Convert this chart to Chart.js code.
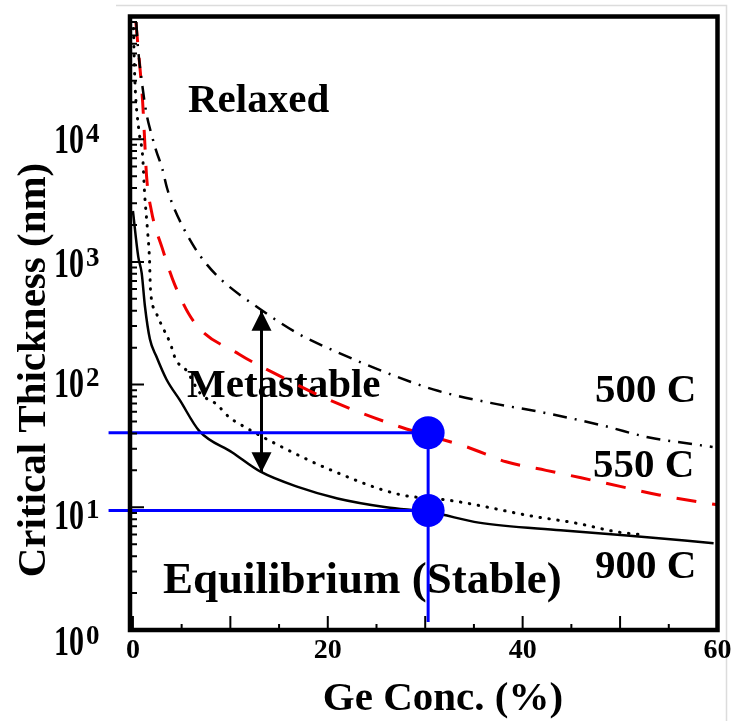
<!DOCTYPE html>
<html>
<head>
<meta charset="utf-8">
<script src="https://cdn.jsdelivr.net/npm/chart.js@4.4.1/dist/chart.umd.min.js"></script>
<style>
  html, body { margin: 0; padding: 0; background: #fff; }
</style>
</head>
<body>
<canvas id="chart" width="734" height="721"></canvas>
<script>
// values (x = Ge %, y = thickness in nm)
var x500 = [0.35, 0.5, 0.9, 1.4, 1.9, 2.4, 3.0, 3.5, 4.1, 6.1, 7.6, 9.2, 13, 17, 21.1, 25.9, 31.3, 36.7, 42.2, 48.4, 53, 57.2, 59.5];
var y500 = [90000, 58000, 30000, 16000, 11000, 8000, 5800, 4000, 2900, 1400, 950, 700, 415, 259, 182, 126, 89, 71, 59, 46, 37, 33, 31];

var x550 = [0.3, 0.5, 0.7, 1.0, 1.2, 1.4, 1.9, 3.0, 4.3, 6.3, 10.9, 15.3, 19.8, 26.8, 30.3, 34.3, 38.3, 42.4, 46, 50, 54, 58.3, 60];
var y550 = [90000, 60000, 40000, 20000, 10000, 5000, 2600, 1300, 650, 322, 177, 115, 77, 47, 38.5, 31, 23.5, 20, 17.4, 14.8, 12.6, 11, 10.5];

var xDot = [0.05, 0.2, 0.6, 1.0, 1.2, 1.5, 1.7, 1.8, 2.3, 2.9, 3.8, 4.4, 5.5, 6.9, 8.6, 9.9, 10.9, 15.3, 20.4, 27.2, 32.5, 35.4, 40.5, 45.6, 49.7, 52];
var yDot = [80000, 30000, 12000, 7200, 3600, 1800, 1050, 600, 400, 310, 220, 160, 130, 85, 69, 54, 48, 31, 20, 12.8, 11.4, 10.4, 8.6, 7.4, 6.3, 6.0];

var x900 = [0, 0.55, 0.9, 1.23, 1.74, 2.4, 3.45, 4.8, 6.8, 10.2, 13.1, 17, 21, 26, 30.6, 35.5, 43.9, 50.7, 59.6];
var y900 = [2600, 1100, 810, 437, 235, 170, 110, 75, 42, 28, 19.5, 14.6, 11.8, 10, 9.1, 7.5, 6.5, 5.9, 5.1];

// blue marker lines and the two points at 30 %
var markX = [30.3, 30.3];
var markY = [40.5, 9.4];
var lineStartX = -2.5;
var vLineBottom = 1.16;

// metastable arrow
var arrowX = 13.2;
var arrowY = [400, 19.3];

var xTicks = [0, 5, 10, 15, 20, 25, 30, 35, 40, 45, 50, 55, 60];
var xLabels = [0, 20, 40, 60];
var yMajor = [1, 10, 100, 1000, 10000];
var yExp = ['0', '1', '2', '3', '4'];
var yLabelDrop = [25, 22, 12, 15, 14];   // baseline offset of each label below its tick

function pts(xs, ys) {
    return xs.map(function (x, i) { return { x: x, y: ys[i] }; });
}

var yTicks = [];
yMajor.forEach(function (d) {
    for (var m = 1; m <= 9; m++) yTicks.push(m * d);
});
yTicks.push(100000);

var serif = "'Liberation Serif', 'Times New Roman', serif";
Chart.defaults.font.family = serif;
Chart.defaults.color = '#000';

var frame = {
    id: 'frame',
    beforeDraw: function (chart) {
        var c = chart.ctx;
        c.save();
        c.strokeStyle = '#dcdcdc';
        c.lineWidth = 1.5;
        c.beginPath();
        c.moveTo(116, 5.5);
        c.lineTo(726.5, 5.5);
        c.lineTo(726.5, 721);
        c.stroke();
        c.restore();
    },
    beforeDatasetsDraw: function (chart) {
        var c = chart.ctx;
        var ys = chart.scales.y;
        c.save();
        c.fillStyle = '#000';
        c.textBaseline = 'alphabetic';
        c.textAlign = 'left';
        c.font = 'bold 41px ' + serif;
        c.fillText('Relaxed', 188, 112);
        c.fillText('Metastable', 187, 397);
        c.fillText('500 C', 595, 402);
        c.fillText('550 C', 593, 477);
        c.fillText('900 C', 595, 578);
        c.font = 'bold 45px ' + serif;
        c.fillText('Equilibrium (Stable)', 163, 593);

        // y tick labels as 10^n
        yMajor.forEach(function (v, i) {
            var p = ys.getPixelForValue(v);
            var base = p + yLabelDrop[i];
            c.save();
            c.translate(84, base);
            c.scale(1, 1.4);
            c.textAlign = 'right';
            c.font = 'bold 30px ' + serif;
            c.fillText('10', 0, 0);
            c.restore();
            c.textAlign = 'left';
            c.font = 'bold 27px ' + serif;
            c.fillText(yExp[i], 86, base - 11);
        });

        c.textAlign = 'center';
        c.font = 'bold 41px ' + serif;
        c.fillText('Ge Conc. (%)', 443, 710);

        c.translate(45, 370);
        c.rotate(-Math.PI / 2);
        c.font = 'bold 41px ' + serif;
        c.fillText('Critical Thickness (nm)', 0, 0);
        c.restore();
    },
    afterDatasetsDraw: function (chart) {
        var c = chart.ctx;
        var a = chart.chartArea;
        var xs = chart.scales.x, ys = chart.scales.y;
        c.save();
        // arrow heads
        var px = xs.getPixelForValue(arrowX);
        var pt = ys.getPixelForValue(arrowY[0]);
        var pb = ys.getPixelForValue(arrowY[1]);
        c.fillStyle = '#000';
        c.beginPath();
        c.moveTo(px, pt);
        c.lineTo(px - 10, pt + 20);
        c.lineTo(px + 10, pt + 20);
        c.closePath();
        c.fill();
        c.beginPath();
        c.moveTo(px, pb);
        c.lineTo(px - 10, pb - 20);
        c.lineTo(px + 10, pb - 20);
        c.closePath();
        c.fill();

        // inward ticks
        c.strokeStyle = '#000';
        c.lineWidth = 2;
        c.beginPath();
        xs.ticks.forEach(function (t) {
            var p = xs.getPixelForValue(t.value);
            var len = t.value % 10 === 0 ? 14 : 6;
            c.moveTo(p, a.bottom);
            c.lineTo(p, a.bottom - len);
        });
        ys.ticks.forEach(function (t) {
            var p = ys.getPixelForValue(t.value);
            var len = yMajor.indexOf(t.value) >= 0 ? 14 : 7;
            c.moveTo(a.left, p);
            c.lineTo(a.left + len, p);
        });
        c.stroke();

        // frame
        c.lineWidth = 4.5;
        c.strokeRect(a.left, a.top, a.right - a.left, a.bottom - a.top);
        c.restore();
    }
};

new Chart(document.getElementById('chart'), {
    type: 'line',
    data: {
        datasets: [
            {
                data: pts(markX, markY),
                showLine: false,
                pointRadius: 16.5,
                pointBackgroundColor: '#0000ff',
                pointBorderWidth: 0
            },
            {
                data: [{ x: lineStartX, y: markY[0] }, { x: markX[0], y: markY[0] }],
                borderColor: '#0000ff', borderWidth: 3, pointRadius: 0, clip: false
            },
            {
                data: [{ x: lineStartX, y: markY[1] }, { x: markX[1], y: markY[1] }],
                borderColor: '#0000ff', borderWidth: 3, pointRadius: 0, clip: false
            },
            {
                data: [{ x: markX[0], y: markY[0] }, { x: markX[0], y: vLineBottom }],
                borderColor: '#0000ff', borderWidth: 3, pointRadius: 0
            },
            {
                data: [{ x: arrowX, y: arrowY[0] }, { x: arrowX, y: arrowY[1] }],
                borderColor: '#000', borderWidth: 3, pointRadius: 0
            },
            {
                label: '500 C',
                data: pts(x500, y500),
                borderColor: '#000', borderWidth: 2.5,
                borderDash: [14, 8, 2, 8],
                pointRadius: 0, cubicInterpolationMode: 'monotone'
            },
            {
                label: '550 C',
                data: pts(x550, y550),
                borderColor: '#f00000', borderWidth: 3,
                borderDash: [20, 16],
                pointRadius: 0, cubicInterpolationMode: 'monotone'
            },
            {
                label: 'dotted',
                data: pts(xDot, yDot),
                borderColor: '#000', borderWidth: 3,
                borderDash: [0.5, 8.5], borderCapStyle: 'round',
                pointRadius: 0, cubicInterpolationMode: 'monotone'
            },
            {
                label: '900 C',
                data: pts(x900, y900),
                borderColor: '#000', borderWidth: 2.5,
                pointRadius: 0, cubicInterpolationMode: 'monotone'
            }
        ]
    },
    options: {
        responsive: false,
        animation: false,
        events: [],
        layout: { padding: { top: 14, right: 14, left: 0, bottom: 0 } },
        plugins: {
            legend: { display: false },
            tooltip: { enabled: false }
        },
        scales: {
            x: {
                type: 'linear',
                min: -0.3,
                max: 60,
                afterBuildTicks: function (s) {
                    s.ticks = xTicks.map(function (v) { return { value: v }; });
                },
                afterFit: function (s) {
                    s.height = 91;
                    s.paddingLeft = 0;
                    s.paddingRight = 0;
                },
                grid: { display: false, drawTicks: false },
                border: { display: false },
                ticks: {
                    font: { size: 28, weight: 'bold' },
                    color: '#000',
                    padding: 4,
                    maxRotation: 0,
                    autoSkip: false,
                    callback: function (v) {
                        return xLabels.indexOf(v) >= 0 ? String(v) : '';
                    }
                }
            },
            y: {
                type: 'logarithmic',
                min: 1,
                max: 100000,
                afterBuildTicks: function (s) {
                    s.ticks = yTicks.map(function (v) { return { value: v }; });
                },
                afterFit: function (s) {
                    s.width = 130;
                    s.paddingTop = 0;
                    s.paddingBottom = 0;
                },
                grid: { display: false, drawTicks: false },
                border: { display: false },
                ticks: { display: false }
            }
        }
    },
    plugins: [frame]
});
</script>
</body>
</html>
